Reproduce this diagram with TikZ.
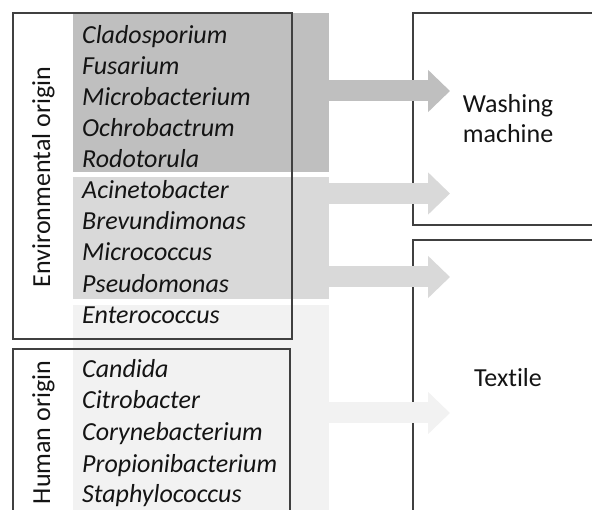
\documentclass[tikz,border=0pt]{standalone}
\usepackage{fontspec}
\setmainfont{Carlito}[Ligatures={NoCommon}]
\usetikzlibrary{arrows.meta}
\definecolor{gA}{HTML}{BFBFBF}
\definecolor{gB}{HTML}{D9D9D9}
\definecolor{gC}{HTML}{F2F2F2}
\definecolor{frame}{HTML}{404040}
\definecolor{ink}{HTML}{141414}
\tikzset{
  band/.style={rectangle, inner sep=0pt, outer sep=0pt, draw=none, anchor=north west},
  framebox/.style={rectangle, inner sep=0pt, outer sep=0pt, draw=frame, line width=1.3pt, anchor=north west},
  genus/.style={anchor=base west, inner sep=0pt, text=ink, font=\fontsize{26}{31}\selectfont\itshape},
  label/.style={anchor=base, inner sep=0pt, text=ink, font=\fontsize{26}{31}\selectfont},
  fatarrow/.style={line width=21pt, draw=#1, -{Triangle[length=22pt,width=41pt]}}
}
\begin{document}
\begin{tikzpicture}[x=1pt,y=-1pt]
\useasboundingbox (0,0) rectangle (592,510);
\clip (0,0) rectangle (592,510);
% bands
\node[band, fill=gA, minimum width=256pt, minimum height=159pt] (b1) at (73,13) {};
\node[band, fill=gB, minimum width=256pt, minimum height=122pt] (b2) at (73,177) {};
\node[band, fill=gC, minimum width=256pt, minimum height=215pt] (b3) at (73,305) {};
% frames
\node[framebox, minimum width=279pt, minimum height=326pt] (env) at (13,13) {};
\node[framebox, minimum width=277pt, minimum height=180pt] (hum) at (13,349) {};
\node[framebox, minimum width=200pt, minimum height=212pt] (wm) at (413,13) {};
\node[framebox, minimum width=200pt, minimum height=290pt] (tex) at (413,240) {};
% arrow tips
\coordinate (t1) at (450,91);
\coordinate (t2) at (450,193.5);
\coordinate (t3) at (450,277);
\coordinate (t4) at (450,413);
\draw[fatarrow=gA] (b1.east |- t1) -- (t1);
\draw[fatarrow=gB] (b2.east |- t2) -- (t2);
\draw[fatarrow=gB] (b2.east |- t3) -- (t3);
\draw[fatarrow=gC] (b3.east |- t4) -- (t4);
% genera
\foreach \n/\y/\t in {
  1/44/Cladosporium, 2/75/Fusarium, 3/106/Microbacterium, 4/137/Ochrobactrum, 5/168/Rodotorula,
  6/199/Acinetobacter, 7/230/Brevundimonas, 8/261/Micrococcus, 9/293/Pseudomonas, 10/324/Enterococcus,
  11/378/Candida, 12/409/Citrobacter, 13/441/Corynebacterium, 14/472/Propionibacterium, 15/503/Staphylococcus}
  \node[genus] (g\n) at (82,\y) {\t};
% side labels
\node[label, rotate=90] (envlab) at (50,177) {Environmental origin};
\node[label, rotate=90] (humlab) at (50,432.5) {Human origin};
% target labels
\node[label] (wm1) at (508,113) {Washing};
\node[label] (wm2) at (508,143) {machine};
\node[label] (texlab) at (508,387) {Textile};
\end{tikzpicture}
\end{document}
